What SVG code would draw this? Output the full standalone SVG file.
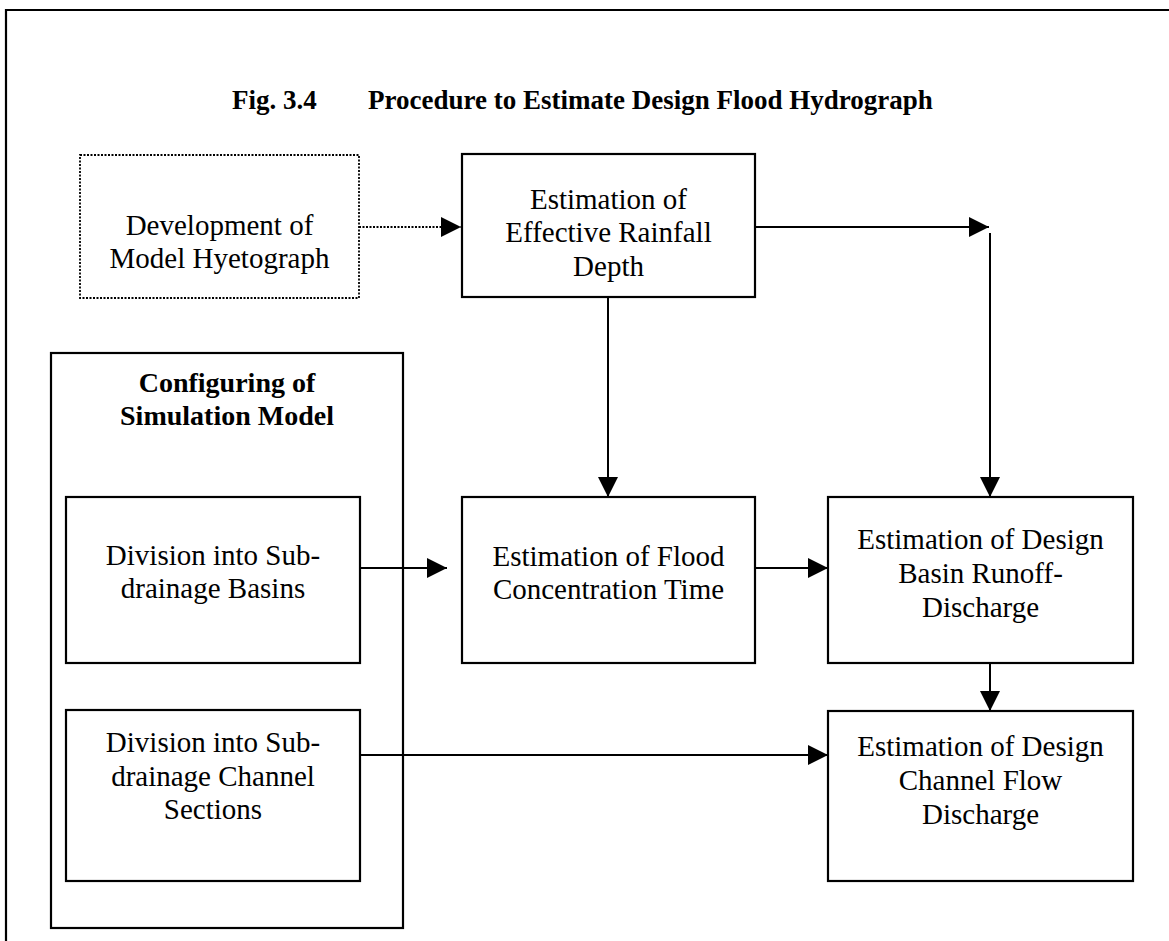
<svg xmlns="http://www.w3.org/2000/svg" width="1169" height="941" viewBox="0 0 1169 941">
<style>
.box{fill:#fff;stroke:#000;stroke-width:2.2}
.dot{fill:#fff;stroke:#000;stroke-width:1.8;stroke-dasharray:2 1.5}
.t{font-family:"Liberation Serif","Times New Roman",serif;font-size:29px;fill:#000;text-anchor:middle}
.b{font-family:"Liberation Serif","Times New Roman",serif;font-size:28px;font-weight:bold;fill:#000;text-anchor:middle}
.ttl{font-family:"Liberation Serif","Times New Roman",serif;font-size:27px;font-weight:bold;fill:#000}
.ln{fill:none;stroke:#000;stroke-width:2}
.dl{fill:none;stroke:#000;stroke-width:1.8;stroke-dasharray:2 1.5}
</style>
<defs>
<marker id="ah" viewBox="0 0 20 20" refX="20" refY="10" markerWidth="20" markerHeight="20" markerUnits="userSpaceOnUse" orient="auto">
<path d="M0,0 L20,10 L0,20 Z" fill="#000"/>
</marker>
</defs>
<rect width="1169" height="941" fill="#fff"/>
<g id="frame">
<path d="M6,941 V10 H1169" fill="none" stroke="#000" stroke-width="2.2"/>
</g>
<g id="title">
<text class="ttl" y="109"><tspan x="232">Fig. 3.4</tspan><tspan x="368">Procedure to Estimate Design Flood Hydrograph</tspan></text>
</g>
<g id="config">
<rect class="box" x="51" y="353" width="352" height="575"/>
<text class="b" x="227" y="392">Configuring of</text>
<text class="b" x="227" y="425">Simulation Model</text>
</g>
<g id="hyetograph">
<rect class="dot" x="80" y="155" width="279" height="143"/>
<text class="t" x="219.5" y="235">Development of</text>
<text class="t" x="219.5" y="268">Model Hyetograph</text>
</g>
<g id="rainfall">
<rect class="box" x="462" y="154" width="293" height="143"/>
<text class="t" x="608.5" y="209">Estimation of</text>
<text class="t" x="608.5" y="242">Effective Rainfall</text>
<text class="t" x="608.5" y="276">Depth</text>
</g>
<g id="basins">
<rect class="box" x="66" y="497" width="294" height="166"/>
<text class="t" x="213" y="565">Division into Sub-</text>
<text class="t" x="213" y="598">drainage Basins</text>
</g>
<g id="concentration">
<rect class="box" x="462" y="497" width="293" height="166"/>
<text class="t" x="608.5" y="566">Estimation of Flood</text>
<text class="t" x="608.5" y="599">Concentration Time</text>
</g>
<g id="runoff">
<rect class="box" x="828" y="497" width="305" height="166"/>
<text class="t" x="980.5" y="549">Estimation of Design</text>
<text class="t" x="980.5" y="583">Basin Runoff-</text>
<text class="t" x="980.5" y="617">Discharge</text>
</g>
<g id="channels">
<rect class="box" x="66" y="710" width="294" height="171"/>
<text class="t" x="213" y="752">Division into Sub-</text>
<text class="t" x="213" y="786">drainage Channel</text>
<text class="t" x="213" y="819">Sections</text>
</g>
<g id="channelflow">
<rect class="box" x="828" y="711" width="305" height="170"/>
<text class="t" x="980.5" y="756">Estimation of Design</text>
<text class="t" x="980.5" y="790">Channel Flow</text>
<text class="t" x="980.5" y="824">Discharge</text>
</g>
<g id="connectors">
<path class="dl" d="M359,227 H461" marker-end="url(#ah)"/>
<path class="ln" d="M755,227 H989" marker-end="url(#ah)"/>
<path class="ln" d="M990,233 V497" marker-end="url(#ah)"/>
<path class="ln" d="M608,297 V497" marker-end="url(#ah)"/>
<path class="ln" d="M360,568 H447" marker-end="url(#ah)"/>
<path class="ln" d="M755,568 H828" marker-end="url(#ah)"/>
<path class="ln" d="M990,663 V711" marker-end="url(#ah)"/>
<path class="ln" d="M360,755 H828" marker-end="url(#ah)"/>
</g>
</svg>
